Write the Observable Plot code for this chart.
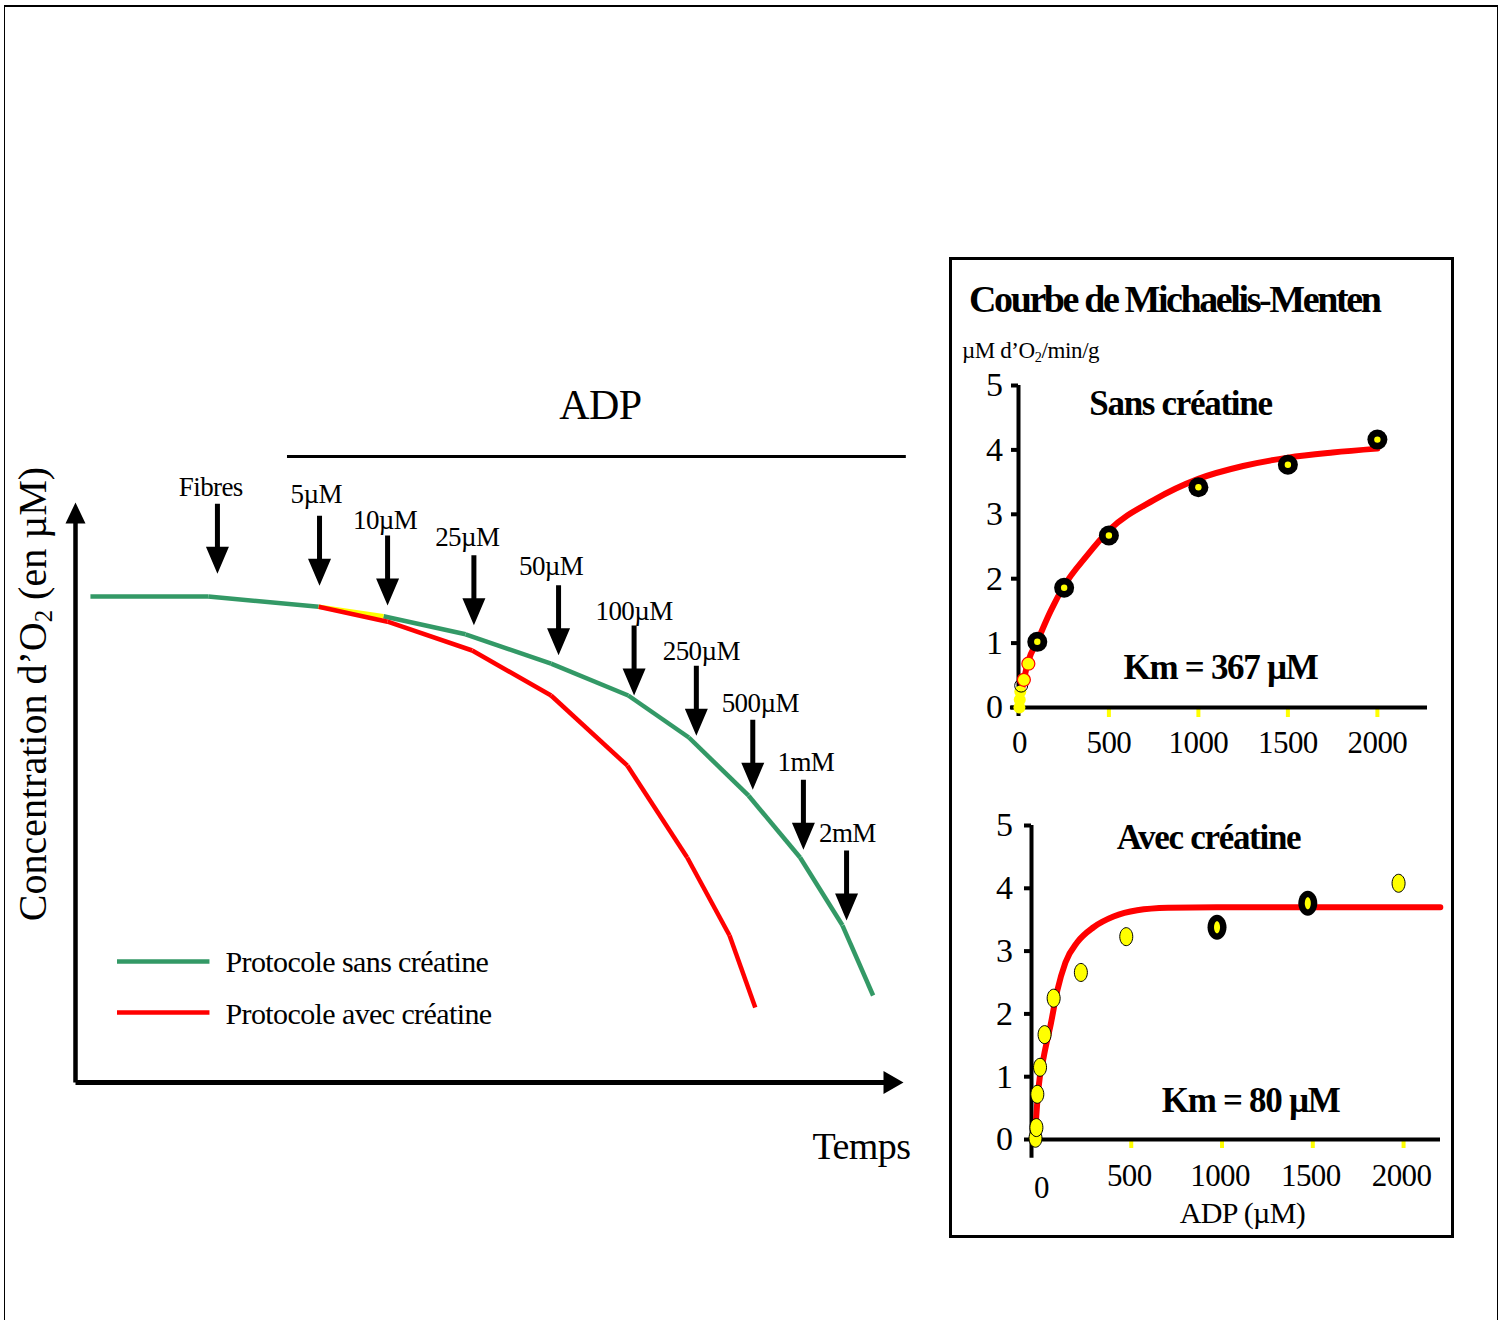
<!DOCTYPE html>
<html><head><meta charset="utf-8">
<script src="https://cdn.jsdelivr.net/npm/d3@7"></script>
<script src="https://cdn.jsdelivr.net/npm/@observablehq/plot@0.6"></script>
<style>
body{margin:0;background:#fff;}
#page{position:relative;width:1503px;height:1320px;overflow:hidden;font-family:"Liberation Serif","Times New Roman",serif;color:#000;background:#fff;}
#page svg text{letter-spacing:-0.6px;}
#page svg g[font-weight="bold"] text{letter-spacing:-1.3px;}
.abs{position:absolute;}
#frame{left:4px;top:5px;width:1494px;height:1400px;border:1.5px solid #000;border-top:2.5px solid #000;box-sizing:border-box;}
#insetFrame{left:949px;top:257px;width:505px;height:981px;border:3.5px solid #000;box-sizing:border-box;}
#ylabel{left:-217.5px;top:674px;width:500px;height:40px;line-height:40px;font-size:40px;text-align:center;white-space:nowrap;transform:rotate(-90deg);}
#insetTitle{left:969px;top:280px;font-size:38px;line-height:38px;font-weight:bold;letter-spacing:-2.4px;white-space:nowrap;}
#unit{left:962px;top:339px;font-size:23px;line-height:23px;letter-spacing:-0.4px;white-space:nowrap;}
.sub{font-size:0.62em;vertical-align:-0.25em;}
#left{left:0;top:0;}
#top{left:950px;top:370px;}
#bottom{left:950px;top:800px;}
</style></head><body>
<div id="page">
  <div class="abs" id="frame"></div>
  <div class="abs" id="insetFrame"></div>
  <div class="abs" id="left"></div>
  <div class="abs" id="ylabel">Concentration d’O<span class="sub">2</span> (en µM)</div>
  <div class="abs" id="insetTitle">Courbe de Michaelis-Menten</div>
  <div class="abs" id="unit">µM d’O<span class="sub">2</span>/min/g</div>
  <div class="abs" id="top"></div>
  <div class="abs" id="bottom"></div>
</div>
<script>
// ---------- Left chart: O2 concentration vs time (arbitrary units) ----------
const greenT  = [1.8, 16.0, 29.3, 37.1, 47.0, 57.3, 66.6, 73.9, 81.1, 87.3, 92.4, 96.1];
const greenO2 = [81.0, 81.0, 79.3, 77.7, 74.7, 69.8, 64.5, 57.5, 47.8, 37.5, 26.2, 14.5];
const redT    = [29.3, 37.6, 47.8, 57.3, 66.5, 73.7, 78.8, 81.9];
const redO2   = [79.3, 76.8, 72.0, 64.5, 52.8, 37.5, 24.5, 12.5];

const additions   = ["Fibres", "5µM", "10µM", "25µM", "50µM", "100µM", "250µM", "500µM", "1mM", "2mM"];
const additionT   = [17.1, 29.4, 37.6, 48.0, 58.2, 67.3, 74.8, 81.6, 87.7, 92.9];
const arrowTipO2  = [84.8, 82.8, 79.5, 76.2, 71.2, 64.5, 57.8, 48.8, 38.8, 27.0];
const labelT      = [16.3, 29.0, 37.3, 47.2, 57.3, 67.3, 75.4, 82.5, 88.0, 93.0];
const labelO2     = [99.2, 98.0, 93.7, 90.8, 86.0, 78.5, 71.8, 63.2, 53.3, 41.5];

const legendLabels = ["Protocole sans créatine", "Protocole avec créatine"];
const legendColors = ["#339966", "#ff0000"];

// ---------- Inset: Michaelis-Menten, sans créatine ----------
const sansADP      = [100, 250, 500, 1000, 1500, 2000];
const sansV        = [1.02, 1.86, 2.67, 3.42, 3.77, 4.16];
const sansLowADP   = [25, 50];
const sansLowV     = [0.43, 0.68];
const sansOpenADP  = [10];
const sansOpenV    = [0.34];
const sansZeroADP  = [0, 2, 5];
const sansZeroV    = [0, 0.12, 0.25];
const sansFitADP   = [0, 10, 25, 50, 100, 175, 250, 375, 500, 750, 1000, 1250, 1500, 1750, 2000];
const sansFitV     = [0.0, 0.2, 0.43, 0.72, 1.03, 1.5, 1.89, 2.35, 2.75, 3.22, 3.55, 3.75, 3.88, 3.96, 4.02];

// ---------- Inset: Michaelis-Menten, avec créatine ----------
const avecRingADP  = [1000, 1500];
const avecRingV    = [3.38, 3.76];
const avecADP      = [0, 5, 10, 25, 50, 100, 250, 500, 2000];
const avecV        = [0.02, 0.19, 0.72, 1.15, 1.67, 2.25, 2.66, 3.23, 4.08];
const avecFitADP   = [0, 15, 45, 85, 120, 165, 230, 320, 430, 560, 730, 1000, 1500, 2230];
const avecFitV     = [0.19, 0.78, 1.31, 1.85, 2.37, 2.82, 3.14, 3.38, 3.55, 3.65, 3.69, 3.70, 3.70, 3.70];

const yTicks = [0, 1, 2, 3, 4, 5];
const xTicks = [0, 500, 1000, 1500, 2000];

// ---------- helpers ----------
const pts = (xs, ys) => xs.map((x, i) => ({x, y: ys[i], i}));
const segs = (xs, ys) => xs.slice(1).map((x, i) => ({x1: xs[i], y1: ys[i], x2: x, y2: ys[i + 1], i}));

function arrowShape(headW, headL, shaftW) {
  return {
    draw(ctx, l) {
      const hw = headW / 2, sw = shaftW / 2;
      ctx.moveTo(0, -l);
      ctx.lineTo(hw, -l + headL);
      ctx.lineTo(sw, -l + headL);
      ctx.lineTo(sw, 0);
      ctx.lineTo(-sw, 0);
      ctx.lineTo(-sw, -l + headL);
      ctx.lineTo(-hw, -l + headL);
      ctx.closePath();
    }
  };
}
function ellipse(rx, ry) {
  const k = 0.5523;
  return {
    draw(ctx) {
      ctx.moveTo(rx, 0);
      ctx.bezierCurveTo(rx, ry * k, rx * k, ry, 0, ry);
      ctx.bezierCurveTo(-rx * k, ry, -rx, ry * k, -rx, 0);
      ctx.bezierCurveTo(-rx, -ry * k, -rx * k, -ry, 0, -ry);
      ctx.bezierCurveTo(rx * k, -ry, rx, -ry * k, rx, 0);
      ctx.closePath();
    }
  };
}
const baseStyle = {fontFamily: "Liberation Serif, Times New Roman, serif", background: "transparent", overflow: "visible", color: "black"};

// ---------- left plot ----------
const greenSegs = segs(greenT, greenO2);
const redSegs = segs(redT, redO2);
const arrows = additions.map((name, i) => ({name, t: additionT[i], tip: arrowTipO2[i], lt: labelT[i], lo: labelO2[i]}));
const legend = legendLabels.map((label, i) => ({label, color: legendColors[i], o: [20.17, 11.67][i], lo: [20.0, 11.4][i]}));

const leftPlot = Plot.plot({
  width: 940, height: 1200,
  marginLeft: 75, marginRight: 35, marginTop: 482, marginBottom: 118,
  x: {domain: [0, 100], axis: null},
  y: {domain: [0, 100], axis: null},
  style: baseStyle,
  marks: [
    Plot.vector([{t: 0, o: 0}], {x: "t", y: "o", length: 580, rotate: 0, anchor: "start", shape: arrowShape(20, 21, 4.5), fill: "black", stroke: "none"}),
    Plot.vector([{t: 0, o: 0}], {x: "t", y: "o", length: 828, rotate: 90, anchor: "start", shape: arrowShape(23, 20, 5), fill: "black", stroke: "none"}),
    Plot.ruleY([104.33], {x1: 25.54, x2: 100.1, strokeWidth: 3}),
    Plot.text(["ADP"], {x: 63.25, y: 112.8, fontSize: 42}),
    Plot.link(greenSegs.filter(d => d.i !== 2), {x1: "x1", y1: "y1", x2: "x2", y2: "y2", stroke: "#339966", strokeWidth: 4.5, strokeLinecap: "butt"}),
    Plot.link(greenSegs.filter(d => d.i === 2), {x1: "x1", y1: "y1", x2: "x2", y2: "y2", stroke: "#ffff00", strokeWidth: 4.5, strokeLinecap: "butt"}),
    Plot.link(redSegs, {x1: "x1", y1: "y1", x2: "x2", y2: "y2", stroke: "#ff0000", strokeWidth: 4.5, strokeLinecap: "butt"}),
    Plot.vector(arrows, {x: "t", y: "tip", length: 70, rotate: 180, anchor: "end", shape: arrowShape(23, 27, 5), fill: "black", stroke: "none"}),
    Plot.text(arrows, {x: "lt", y: "lo", text: "name", fontSize: 27}),
    Plot.text(["Temps"], {x: 94.7, y: -10.7, fontSize: 38}),
    Plot.link(legend, {x1: 5.0, x2: 16.14, y1: "o", y2: "o", stroke: "color", strokeWidth: 4.5}),
    Plot.text(legend, {x: 18.07, y: "lo", text: "label", textAnchor: "start", fontSize: 30})
  ]
});
document.getElementById("left").append(leftPlot);

// ---------- top inset ----------
const topPlot = Plot.plot({
  width: 500, height: 400,
  marginLeft: 68, marginRight: 23, marginTop: 15, marginBottom: 63,
  x: {domain: [-5, 2280]},
  y: {domain: [0, 5]},
  style: baseStyle,
  marks: [
    Plot.ruleX(xTicks.slice(1), {x: d => d, y1: 0, y2: -0.155, stroke: "#ffff00", strokeWidth: 4}),
    Plot.ruleY([0], {x1: -50, x2: 2280, strokeWidth: 4}),
    Plot.ruleX([-5], {y1: -0.14, y2: 5, strokeWidth: 4}),
    Plot.axisY(yTicks, {tickSize: 7, tickPadding: 9, strokeWidth: 4, fontSize: 34, label: null, tickFormat: d => String(d)}),
    Plot.axisX(xTicks, {tickSize: 0, tickPadding: 23, fontSize: 31, label: null, tickFormat: d => String(d)}),
    Plot.line(pts(sansFitADP, sansFitV), {x: "x", y: "y", stroke: "#ff0000", strokeWidth: 6, curve: "monotone-x"}),
    Plot.dot(pts(sansZeroADP, sansZeroV), {x: "x", y: "y", r: 6, fill: "#ffff00"}),
    Plot.dot(pts(sansOpenADP, sansOpenV), {x: "x", y: "y", r: 6.5, fill: "none", stroke: "black", strokeWidth: 1}),
    Plot.dot(pts(sansLowADP, sansLowV), {x: "x", y: "y", r: 6.5, fill: "#ffff00", stroke: "#ff0000", strokeWidth: 1.2}),
    Plot.dot(pts(sansADP, sansV), {x: "x", y: "y", r: 10, fill: "black"}),
    Plot.dot(pts(sansADP, sansV), {x: "x", y: "y", r: 3.2, fill: "#ffff00"}),
    Plot.text(["Sans créatine"], {x: 900, y: 4.72, fontSize: 35, fontWeight: "bold"}),
    Plot.text(["Km = 367 µM"], {x: 1124, y: 0.62, fontSize: 35, fontWeight: "bold"})
  ]
});
document.getElementById("top").append(topPlot);

// ---------- bottom inset ----------
const bottomPlot = Plot.plot({
  width: 500, height: 420,
  marginLeft: 81, marginRight: 10, marginTop: 25, marginBottom: 81,
  x: {domain: [-22, 2231]},
  y: {domain: [0, 5]},
  style: baseStyle,
  marks: [
    Plot.ruleX(xTicks.slice(1), {x: d => d, y1: 0, y2: -0.143, dx: 5, stroke: "#ffff00", strokeWidth: 4}),
    Plot.ruleY([0], {x1: -22, x2: 2231, strokeWidth: 4}),
    Plot.ruleX([-22], {y1: -0.3, y2: 5, strokeWidth: 4}),
    Plot.axisY(yTicks, {tickSize: 7, tickPadding: 12, strokeWidth: 4, fontSize: 34, label: null, tickFormat: d => String(d)}),
    Plot.axisX([0], {tickSize: 0, tickPadding: 36, dx: 6, fontSize: 31, label: null, tickFormat: d => String(d)}),
    Plot.axisX(xTicks.slice(1), {tickSize: 0, tickPadding: 24, dx: 3, fontSize: 31, label: null, tickFormat: d => String(d)}),
    Plot.line(pts(avecFitADP, avecFitV), {x: "x", y: "y", stroke: "#ff0000", strokeWidth: 6, curve: "monotone-x"}),
    Plot.dot(pts(avecADP, avecV), {x: "x", y: "y", r: 1, symbol: ellipse(6.5, 9), fill: "#ffff00", stroke: "black", strokeWidth: 1}),
    Plot.dot(pts(avecRingADP, avecRingV), {x: "x", y: "y", r: 1, symbol: ellipse(9.5, 12.5), fill: "black"}),
    Plot.dot(pts(avecRingADP, avecRingV), {x: "x", y: "y", r: 1, symbol: ellipse(3, 6), fill: "#ffff00"}),
    Plot.text(["Avec créatine"], {x: 953, y: 4.81, fontSize: 35, fontWeight: "bold"}),
    Plot.text(["Km = 80 µM"], {x: 1185, y: 0.62, fontSize: 35, fontWeight: "bold"}),
    Plot.text(["ADP (µM)"], {x: 1140, y: -1.18, fontSize: 30})
  ]
});
document.getElementById("bottom").append(bottomPlot);
</script>
</body></html>
